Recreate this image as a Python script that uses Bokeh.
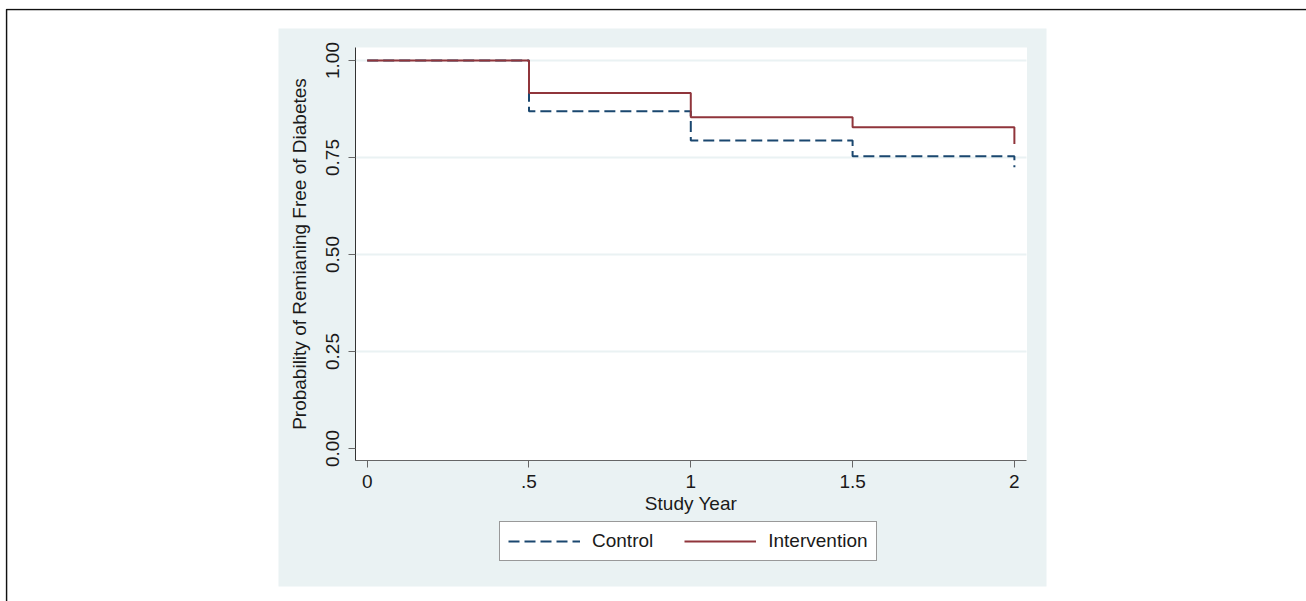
from bokeh.plotting import figure
from bokeh.models import (Range1d, FixedTicker, BoxAnnotation, Legend, LegendItem,
                          NumeralTickFormatter)
from bokeh.embed import file_html
from bokeh.resources import INLINE

# ---- data ----
years = [0, 0.5, 1, 1.5, 2]
control = [1.0, 0.869, 0.794, 0.753, 0.725]
intervention = [1.0, 0.916, 0.854, 0.828, 0.785]
series_names = ["Control", "Intervention"]
x_ticks = [0, 0.5, 1, 1.5, 2]
x_tick_labels = ["0", ".5", "1", "1.5", "2"]
y_ticks = [0, 0.25, 0.5, 0.75, 1.0]
y_grid = [0.25, 0.5, 0.75, 1.0]
x_title = "Study Year"
y_title = "Probability of Remianing Free of Diabetes"

FONT = "Liberation Sans"
PANEL = "#eaf2f3"
NAVY = "#1a476f"
MAROON = "#90353b"
TXT = "#1a1a1a"

# layout constants: whole-canvas frame, plot area inside it
W, H = 1306, 601
X_VIEW = (-1.1177, 2.9027)     # data range spanning the whole canvas width
Y_VIEW = (-0.3943, 1.1340)     # data range spanning the whole canvas height
X_PLOT = (-0.0362, 2.0389)     # white plotting region
Y_PLOT = (-0.0309, 1.0335)

p = figure(width=W, height=H, output_backend="svg", toolbar_location=None,
           x_range=Range1d(*X_VIEW), y_range=Range1d(*Y_VIEW),
           min_border_left=5, min_border_right=0, min_border_top=8,
           min_border_bottom=0,
           background_fill_color="white", border_fill_color="white",
           outline_line_color=None)

# light graph-region panel and white plot region
panel = BoxAnnotation(left=278, right=1046, top=28, bottom=586,
                      left_units="canvas", right_units="canvas",
                      top_units="canvas", bottom_units="canvas",
                      fill_color=PANEL, fill_alpha=1, line_color=None, level="image")
p.add_layout(panel)
plotbg = BoxAnnotation(left=X_PLOT[0], right=X_PLOT[1], bottom=Y_PLOT[0], top=Y_PLOT[1],
                       fill_color="white", fill_alpha=1, line_color=None, level="image")
p.add_layout(plotbg)

r_c = p.step(years, control, mode="after", line_color=NAVY, line_width=2,
             line_dash="11 5")
r_i = p.step(years, intervention, mode="after", line_color=MAROON, line_width=2)

# grid
p.xgrid.visible = False
g = p.ygrid[0]
g.ticker = FixedTicker(ticks=y_grid)
g.grid_line_color = PANEL
g.grid_line_width = 2
try:
    g.cross_bounds = X_PLOT
except Exception:
    for l, r in ((0, 278), (1046, 1306)):
        p.add_layout(BoxAnnotation(left=l, right=r, top=0, bottom=H,
                                   left_units="canvas", right_units="canvas",
                                   top_units="canvas", bottom_units="canvas",
                                   fill_color="white", fill_alpha=1, line_color=None,
                                   level="underlay"))

# outer page frame (top and left rules)
frame_lines = BoxAnnotation(left=6, right=3000, top=9, bottom=3000,
                            left_units="canvas", right_units="canvas",
                            top_units="canvas", bottom_units="canvas",
                            fill_alpha=0, line_color="#111111", line_alpha=1,
                            line_width=1.6, level="overlay")
p.add_layout(frame_lines)

# axes
for ax in (p.xaxis[0], p.yaxis[0]):
    ax.major_tick_out = 7
    ax.major_tick_in = 0
    ax.minor_tick_line_color = None
    ax.major_label_text_font = FONT
    ax.major_label_text_font_size = "19px"
    ax.major_label_text_color = TXT
    ax.axis_label_text_font = FONT
    ax.axis_label_text_font_size = "19px"
    ax.axis_label_text_font_style = "normal"
    ax.axis_label_text_color = TXT
    ax.major_tick_line_color = "#666666"

xa = p.xaxis[0]
xa.fixed_location = Y_PLOT[0]
xa.bounds = X_PLOT
xa.ticker = FixedTicker(ticks=x_ticks)
xa.major_label_overrides = dict(zip(x_ticks, x_tick_labels))
xa.axis_line_color = "#666666"
xa.axis_label = x_title
xa.major_label_standoff = 8
xa.axis_label_standoff = 1

ya = p.yaxis[0]
ya.fixed_location = X_PLOT[0]
ya.bounds = Y_PLOT
ya.ticker = FixedTicker(ticks=y_ticks)
ya.formatter = NumeralTickFormatter(format="0.00")
ya.major_label_orientation = "vertical"
ya.axis_line_color = "#333333"
ya.axis_label = y_title
ya.major_label_standoff = 9
ya.axis_label_standoff = 14

legend = Legend(items=[LegendItem(label=series_names[0], renderers=[r_c]),
                       LegendItem(label=series_names[1], renderers=[r_i])],
                orientation="horizontal", location=(494, 40),
                border_line_color="#333333", border_line_width=1,
                background_fill_color="white", background_fill_alpha=1,
                label_text_font=FONT, label_text_font_size="19px",
                label_text_color=TXT,
                glyph_width=72, glyph_height=20, label_standoff=12,
                spacing=31, padding=8, margin=0)
p.add_layout(legend, "center")

open("out.html", "w").write(file_html(p, INLINE))
